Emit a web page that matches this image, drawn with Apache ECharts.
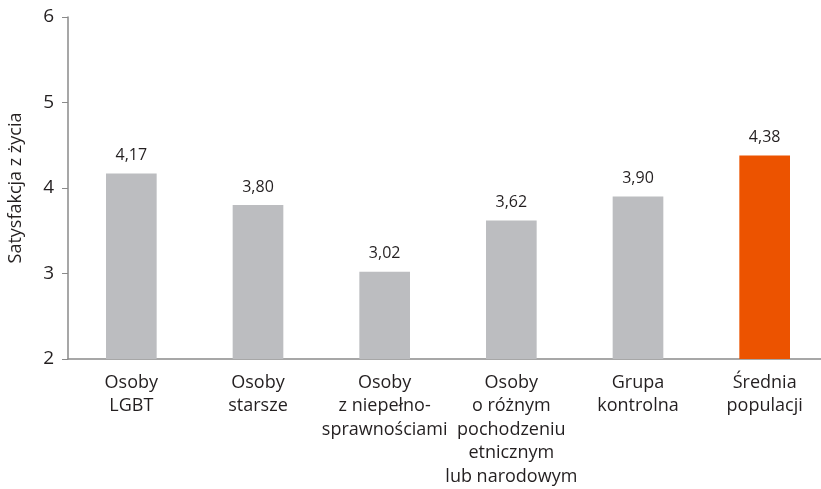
<!DOCTYPE html>
<html lang="pl">
<head>
    <meta charset="UTF-8">
    <title>Satysfakcja z życia</title>
    <script src="https://cdn.jsdelivr.net/npm/echarts@6/dist/echarts.min.js"></script>
</head>
<body style="margin: 0; background: #fff; overflow: hidden;">
<div id="container" style="width: 821px; height: 489px;"></div>
<script type="text/javascript">
    var categories = [
        'Osoby\nLGBT',
        'Osoby\nstarsze',
        'Osoby\nz niepełno-\nsprawnościami',
        'Osoby\no różnym\npochodzeniu\netnicznym\nlub narodowym',
        'Grupa\nkontrolna',
        'Średnia\npopulacji'
    ];
    var values = [4.17, 3.80, 3.02, 3.62, 3.90, 4.38];
    var highlightIndex = 5;

    var grey = '#bcbdc0';
    var orange = '#ec5300';
    var textColor = '#231f20';
    var fontFamily = '"Open Sans", "Noto Sans", sans-serif';

    var seriesData = values.map(function (v, i) {
        return {
            value: v,
            itemStyle: { color: i === highlightIndex ? orange : grey }
        };
    });

    var myChart = echarts.init(document.getElementById('container'));

    var option = {
        animation: false,
        grid: {
            left: 68,
            top: 17,
            width: 760,
            height: 342,
            outerBoundsMode: 'none',
            containLabel: false
        },
        xAxis: {
            type: 'category',
            data: categories,
            axisLine: { lineStyle: { color: '#8a8a8a', width: 1.5 } },
            axisTick: { show: false },
            axisLabel: {
                interval: 0,
                margin: 12,
                color: textColor,
                fontSize: 18,
                lineHeight: 23.5,
                fontFamily: fontFamily
            }
        },
        yAxis: {
            type: 'value',
            min: 2,
            max: 6,
            interval: 1,
            name: 'Satysfakcja z życia',
            nameLocation: 'middle',
            nameGap: 43,
            nameRotate: 90,
            nameTextStyle: { color: textColor, fontSize: 18, fontFamily: fontFamily },
            axisLine: { show: true, lineStyle: { color: '#8a8a8a', width: 1.5 } },
            axisTick: { show: true, length: 6, lineStyle: { color: '#8a8a8a' } },
            splitLine: { show: false },
            axisLabel: {
                margin: 14,
                color: textColor,
                fontSize: 19,
                fontFamily: fontFamily
            }
        },
        series: [{
            type: 'bar',
            data: seriesData,
            barWidth: '40%',
            label: {
                show: true,
                position: 'top',
                distance: 10,
                color: textColor,
                fontSize: 16,
                fontFamily: fontFamily,
                formatter: function (p) {
                    return p.value.toFixed(2).replace('.', ',');
                }
            }
        }]
    };

    myChart.setOption(option);
</script>
</body>
</html>
